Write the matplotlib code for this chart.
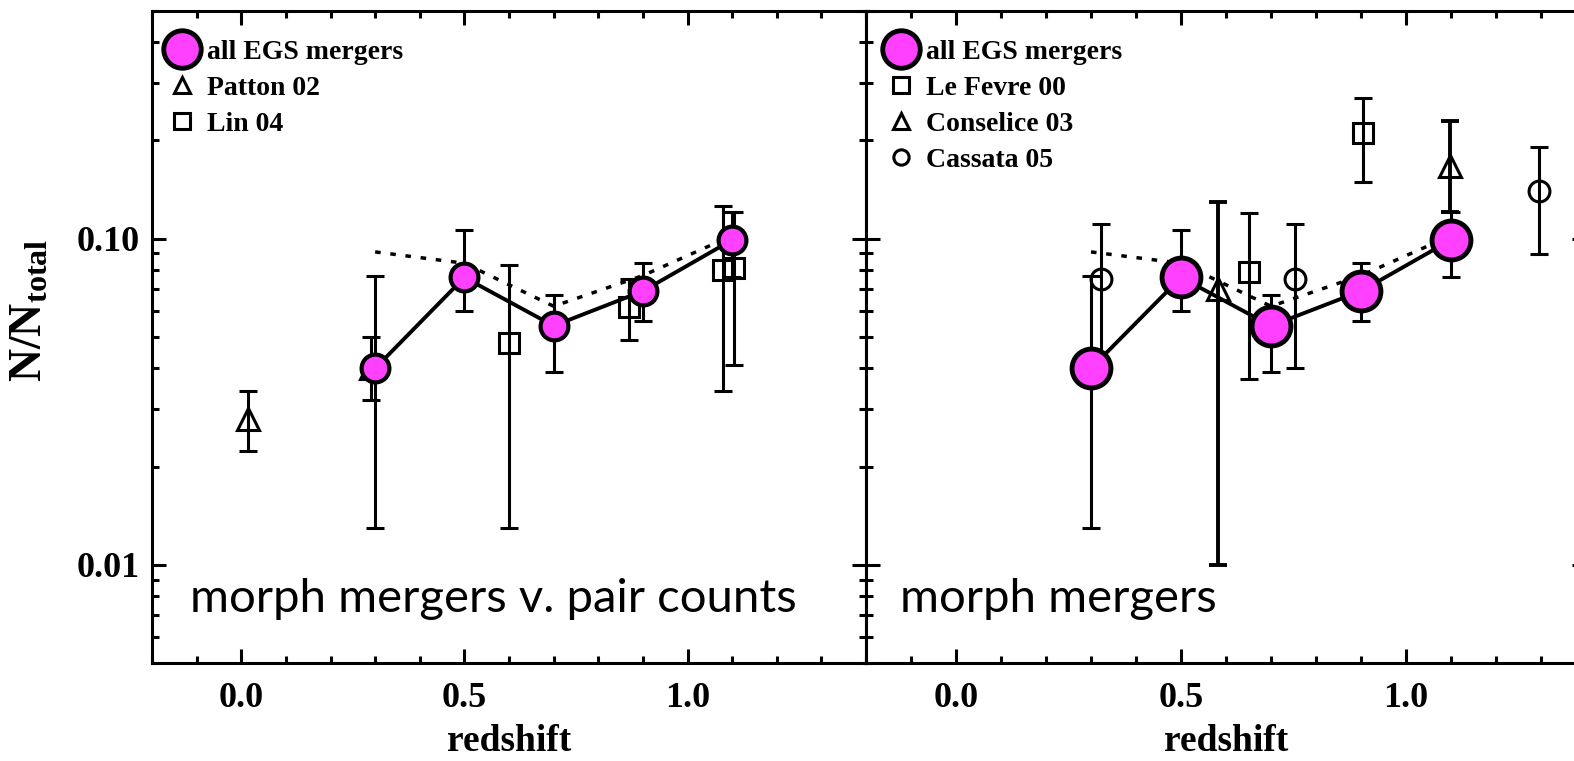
import matplotlib
matplotlib.use("Agg")
import matplotlib.pyplot as plt
from matplotlib.lines import Line2D
from matplotlib.ticker import FixedLocator, MultipleLocator, LogLocator, NullFormatter
import numpy as np

# all EGS mergers (both panels)
egs_z = np.array([0.30, 0.50, 0.70, 0.90, 1.10])
egs_f = np.array([0.040, 0.076, 0.054, 0.069, 0.099])
egs_lo = np.array([0.013, 0.060, 0.039, 0.056, 0.076])
egs_hi = np.array([0.077, 0.106, 0.067, 0.084, 0.121])

# dotted curve
dot_z = np.array([0.30, 0.50, 0.70, 0.90, 1.10])
dot_f = np.array([0.091, 0.084, 0.062, 0.077, 0.102])

# left panel: pair counts
patton_z = np.array([0.015, 0.29])
patton_f = np.array([0.028, 0.040])
patton_lo = np.array([0.0224, 0.032])
patton_hi = np.array([0.034, 0.050])

lin_z = np.array([0.60, 0.87, 1.08, 1.105])
lin_f = np.array([0.048, 0.0615, 0.080, 0.081])
lin_lo = np.array([0.013, 0.0487, 0.034, 0.041])
lin_hi = np.array([0.083, 0.075, 0.126, 0.121])

# right panel: morphological mergers
lefevre_z = np.array([0.65, 0.905])
lefevre_f = np.array([0.0787, 0.210])
lefevre_lo = np.array([0.037, 0.149])
lefevre_hi = np.array([0.120, 0.270])

conselice_z = np.array([0.583, 1.098])
conselice_f = np.array([0.070, 0.167])
conselice_lo = np.array([0.010, 0.121])
conselice_hi = np.array([0.129, 0.230])

cassata_z = np.array([0.322, 0.753, 1.296])
cassata_f = np.array([0.0751, 0.0751, 0.140])
cassata_lo = np.array([0.042, 0.040, 0.0896])
cassata_hi = np.array([0.1106, 0.1106, 0.191])

MAGENTA = "#ff40ff"
SERIF = "Liberation Serif"

plt.rcParams["font.family"] = SERIF
plt.rcParams["font.weight"] = "bold"
plt.rcParams["mathtext.fontset"] = "custom"
plt.rcParams["mathtext.rm"] = "Liberation Serif:bold"
plt.rcParams["mathtext.it"] = "Liberation Serif:bold"

W, H = 1574, 761
fig = plt.figure(figsize=(W / 100, H / 100), dpi=100)
bot, top = 663, 10.5
ax1 = fig.add_axes([152 / W, 1 - bot / H, 714 / W, (bot - top) / H])
ax2 = fig.add_axes([866 / W, 1 - bot / H, 720 / W, (bot - top) / H])


def style(ax):
    ax.set_yscale("log")
    ax.set_xlim(-0.2, 1.4)
    ax.set_ylim(0.005, 0.5)
    ax.xaxis.set_major_locator(FixedLocator([0.0, 0.5, 1.0]))
    ax.xaxis.set_minor_locator(MultipleLocator(0.1))
    ax.set_xticklabels(["0.0", "0.5", "1.0"])
    ax.yaxis.set_major_locator(FixedLocator([0.01, 0.1]))
    ax.yaxis.set_minor_locator(LogLocator(base=10, subs=np.arange(2, 10), numticks=20))
    ax.yaxis.set_minor_formatter(NullFormatter())
    ax.tick_params(which="both", direction="in", top=True, right=True,
                   width=2.2, labelsize=26, pad=9)
    ax.tick_params(axis="x", pad=14)
    ax.tick_params(which="major", length=10)
    ax.tick_params(which="minor", length=5)
    for s in ax.spines.values():
        s.set_linewidth(2.2)
    ax.set_xlabel("redshift", fontsize=27, fontweight="bold", labelpad=6)


def errs(ax, z, f, lo, hi, lw=2.2, cap=6.5):
    ax.errorbar(z, f, yerr=[f - lo, hi - f], fmt="none", ecolor="k",
                elinewidth=lw, capsize=cap, capthick=lw, zorder=2)


def egs(ax, ms, mew):
    errs(ax, egs_z, egs_f, egs_lo, egs_hi)
    ax.plot(dot_z, dot_f, color="k", lw=2.5, ls=(0, (1.6, 2.8)), zorder=3)
    ax.plot(egs_z, egs_f, "-", color="k", lw=2.8, zorder=4)
    ax.plot(egs_z, egs_f, "o", ms=ms, mfc=MAGENTA, mec="k", mew=mew, zorder=5)


def hollow(ax, z, f, marker, ms):
    ax.plot(z, f, ls="none", marker=marker, ms=ms, mfc="none", mec="k", mew=2.2, zorder=3)


style(ax1)
style(ax2)
ax1.set_yticklabels(["0.01", "0.10"])
ax2.tick_params(labelleft=False)

# left panel
errs(ax1, patton_z, patton_f, patton_lo, patton_hi)
hollow(ax1, patton_z, patton_f, "^", 16)
errs(ax1, lin_z, lin_f, lin_lo, lin_hi)
hollow(ax1, lin_z, lin_f, "s", 14)
egs(ax1, 20, 3.0)

# right panel
errs(ax2, lefevre_z, lefevre_f, lefevre_lo, lefevre_hi)
hollow(ax2, lefevre_z, lefevre_f, "s", 14)
errs(ax2, conselice_z, conselice_f, conselice_lo, conselice_hi, lw=2.8)
hollow(ax2, conselice_z, conselice_f, "^", 16)
errs(ax2, cassata_z, cassata_f, cassata_lo, cassata_hi)
hollow(ax2, cassata_z, cassata_f, "o", 15)
egs(ax2, 28, 3.5)

ax1.set_ylabel(r"N/N$_{\mathrm{total}}$", fontsize=33, fontweight="bold")
ax1.yaxis.set_label_coords(-0.14, 0.54)


def legend(ax, entries, x0, pad):
    big = Line2D([], [], ls="none", marker="o", ms=27, mfc=MAGENTA, mec="k", mew=3.5)
    handles = [big] + [Line2D([], [], ls="none", marker=m, ms=11, mfc="none",
                              mec="k", mew=2.2) for m, _ in entries]
    labels = ["all EGS mergers"] + [lab for _, lab in entries]
    ax.legend(handles, labels, loc="upper left", bbox_to_anchor=(x0, 0.956),
              frameon=False, fontsize=20, handlelength=1.0, handletextpad=pad,
              labelspacing=0.38, borderpad=0.0, borderaxespad=0.0)


legend(ax1, [("^", "Patton 02"), ("s", "Lin 04")], 0.022, 0.43)
legend(ax2, [("s", "Le Fevre 00"), ("^", "Conselice 03"), ("o", "Cassata 05")], 0.029, 0.42)

ax1.text(0.053, 0.078, "morph mergers v. pair counts", transform=ax1.transAxes,
         family="Lato", fontweight="normal", fontsize=34, va="baseline")
ax2.text(0.047, 0.078, "morph mergers", transform=ax2.transAxes,
         family="Lato", fontweight="normal", fontsize=34, va="baseline")

fig.savefig("out.png", dpi=100)
